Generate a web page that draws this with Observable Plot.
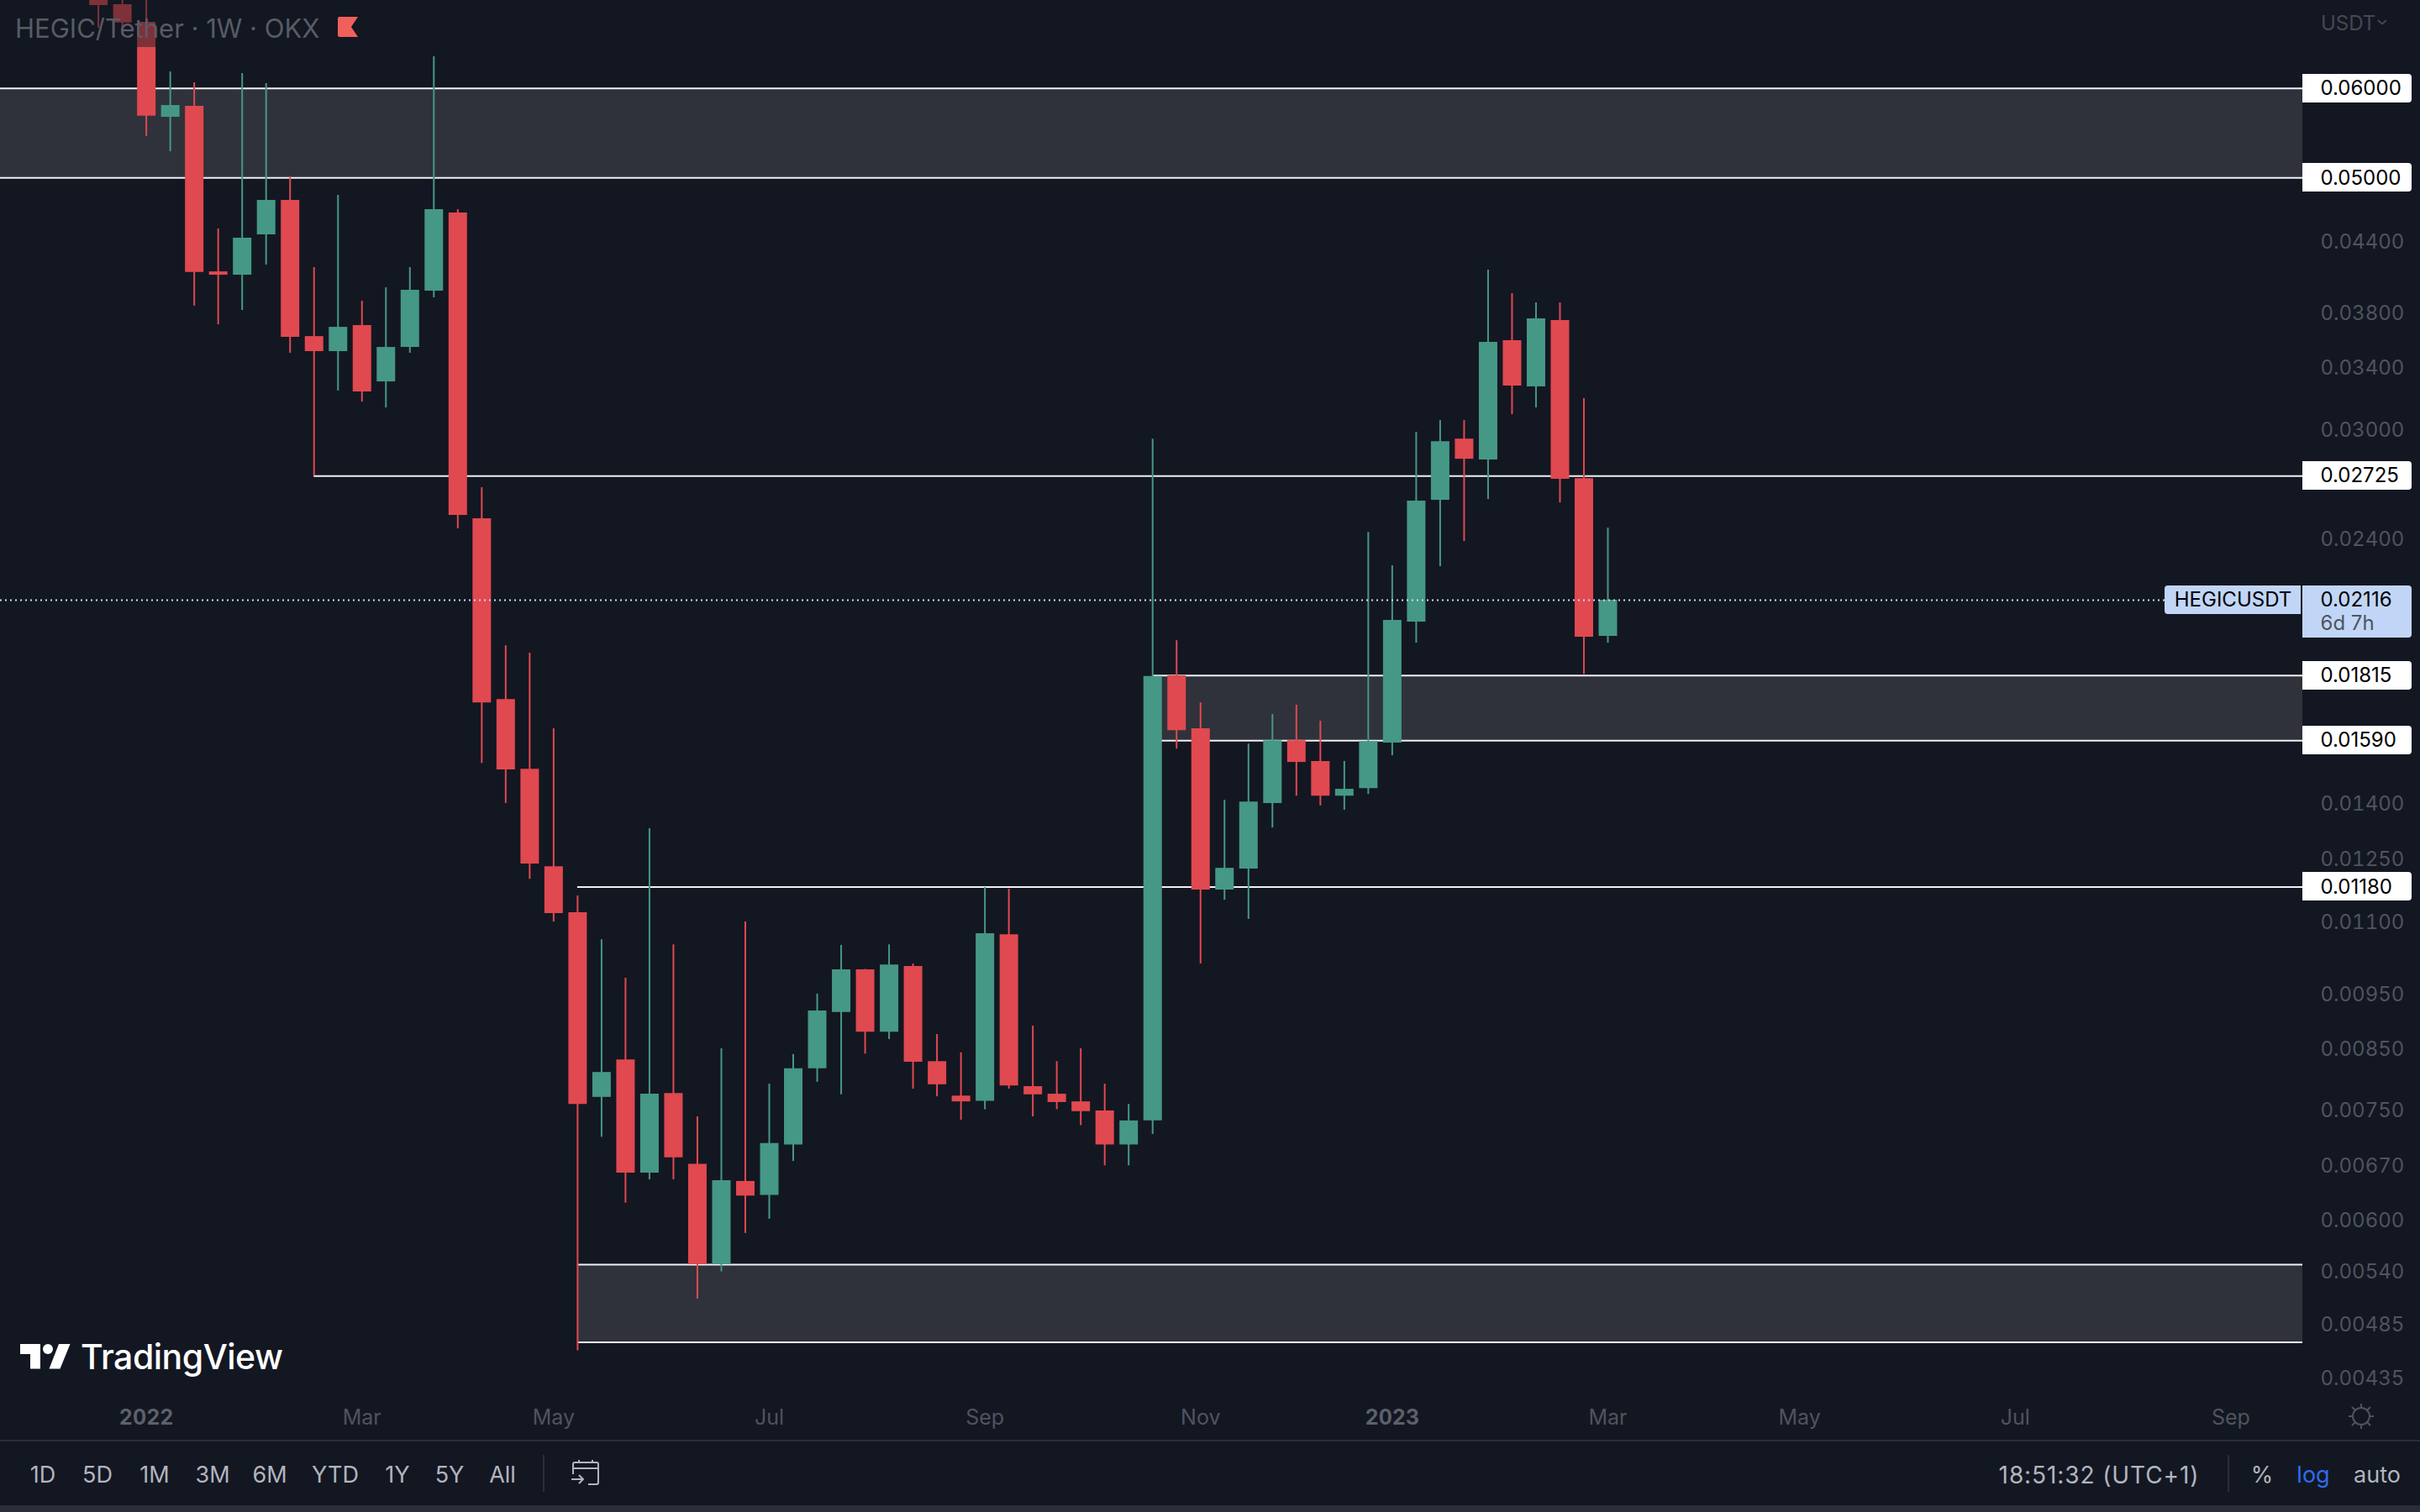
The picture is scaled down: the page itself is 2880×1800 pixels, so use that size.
<!DOCTYPE html>
<html>
<head>
<meta charset="utf-8">
<script src="https://cdn.jsdelivr.net/npm/d3@7"></script>
<script src="https://cdn.jsdelivr.net/npm/@observablehq/plot@0.6"></script>
<style>
html,body{margin:0;padding:0;background:#131722;width:2880px;height:1800px;overflow:hidden;font-family:Inter,"Noto Sans",sans-serif}
#wrap{position:relative;width:2880px;height:1800px}
#chart svg{display:block}
.abs{position:absolute;white-space:nowrap;line-height:1}
.foot{color:#b2b5be;font-size:27px;top:1742px;transform:translateX(-50%)}
</style>
</head>
<body>
<div id="wrap">
  <div id="chart"></div>
  <div class="abs" style="left:0;top:0;width:440px;height:56px;background:rgba(19,23,34,.48)"></div>
  <div class="abs" style="left:18px;top:18px;font-size:31px;color:#585b66">HEGIC/Tether · 1W · OKX</div>
  <svg class="abs" style="left:402px;top:20px" width="24" height="24"><path d="M2 0H24L16 12L24 24H2Q0 24 0 22V2Q0 0 2 0Z" fill="#f0605a"/></svg>
  <div class="abs" style="left:2762px;top:16px;font-size:24px;color:#454852">USDT</div>
  <svg class="abs" style="left:2829px;top:22px" width="12" height="9"><path d="M1 2L6 6.5L11 2" stroke="#454852" stroke-width="2" fill="none"/></svg>
  <svg class="abs" style="left:24px;top:1600px" width="60" height="30"><path d="M0 0H24V29.5H12V12H0Z M46 0H59.5L47.5 29.5H34.5Z" fill="#fff"/><circle cx="33" cy="6" r="6" fill="#fff"/></svg>
  <div class="abs" style="left:96px;top:1595px;font-size:41px;font-weight:500;color:#fff;letter-spacing:-.5px">TradingView</div>
  <svg class="abs" style="left:2795px;top:1671px" width="30" height="30"><g stroke="#50535e" stroke-width="2" fill="none"><circle cx="15" cy="15" r="10"/><path d="M15 0V5M15 25V30M0 15H5M25 15H30M4 4L8 8M22 22L26 26M4 26L8 22M22 8L26 4"/></g></svg>
  <div class="abs" style="left:0;top:1714px;width:2880px;height:2px;background:#2a2e39"></div>
  <div class="abs" style="left:0;top:1792px;width:2880px;height:8px;background:#2a2e39"></div>
  <div class="abs foot" style="left:51px">1D</div>
  <div class="abs foot" style="left:116px">5D</div>
  <div class="abs foot" style="left:184px">1M</div>
  <div class="abs foot" style="left:253px">3M</div>
  <div class="abs foot" style="left:321px">6M</div>
  <div class="abs foot" style="left:399px">YTD</div>
  <div class="abs foot" style="left:473px">1Y</div>
  <div class="abs foot" style="left:535px">5Y</div>
  <div class="abs foot" style="left:598px">All</div>
  <div class="abs" style="left:646px;top:1732px;width:2px;height:44px;background:#2a2e39"></div>
  <svg class="abs" style="left:680px;top:1737px" width="36" height="32"><g stroke="#b2b5be" stroke-width="2" fill="none"><path d="M2 18V6Q2 4 4 4H30Q32 4 32 6V28Q32 30 30 30H20M2 11H32M9 1V5M25 1V5M0 24H14M9 19L14 24L9 29"/></g></svg>
  <div class="abs foot" style="left:2498px;font-size:28px;letter-spacing:.9px">18:51:32 (UTC+1)</div>
  <div class="abs" style="left:2651px;top:1732px;width:2px;height:44px;background:#2a2e39"></div>
  <div class="abs foot" style="left:2692px">%</div>
  <div class="abs foot" style="left:2753px;color:#2f6bf0">log</div>
  <div class="abs foot" style="left:2829px">auto</div>
</div>
<script>
const firstWeek = new Date("2021-12-13T00:00:00Z");
const afterLastWeek = new Date("2023-03-06T00:00:00Z");
const opens  = [0.0745,0.07116,0.06864,0.05658,0.05785,0.04130,0.04102,0.04453,0.04777,0.03620,0.03511,0.03702,0.03301,0.03541,0.03971,0.04656,0.02498,0.01729,0.01500,0.01230,0.01120,0.00769,0.00830,0.00659,0.00775,0.00671,0.00547,0.00648,0.00630,0.00698,0.00815,0.00914,0.00997,0.00878,0.01004,0.00827,0.00771,0.00763,0.01071,0.00786,0.00774,0.00762,0.00748,0.00698,0.00733,0.01814,0.01629,0.01173,0.01224,0.01399,0.01590,0.01524,0.01420,0.01442,0.01582,0.02024,0.02594,0.02938,0.02816,0.03590,0.03267,0.03740,0.02711,0.01966];
const highs  = [0.0760,0.0750,0.0745,0.06206,0.06069,0.04507,0.06184,0.06059,0.05011,0.04166,0.04826,0.03890,0.03998,0.04166,0.06400,0.04688,0.02661,0.01929,0.01900,0.01629,0.01159,0.01060,0.00980,0.01329,0.01049,0.00739,0.00849,0.01099,0.00790,0.00839,0.00949,0.01048,0.00998,0.01049,0.01009,0.00874,0.00842,0.01179,0.01175,0.00889,0.00827,0.00849,0.00790,0.00758,0.02938,0.01949,0.01717,0.01408,0.01579,0.01677,0.01709,0.01654,0.01524,0.02430,0.02270,0.02979,0.03051,0.03051,0.04144,0.03951,0.03877,0.03877,0.03190,0.02451];
const lows   = [0.06783,0.06679,0.05443,0.05275,0.03853,0.03708,0.03818,0.04187,0.03499,0.02725,0.03240,0.03168,0.03131,0.03499,0.03917,0.02447,0.01518,0.01399,0.01199,0.01099,0.00459,0.00709,0.00620,0.00650,0.00650,0.00510,0.00539,0.00583,0.00600,0.00675,0.00793,0.00773,0.00840,0.00865,0.00782,0.00770,0.00734,0.00750,0.00782,0.00739,0.00750,0.00726,0.00669,0.00669,0.00713,0.01563,0.01009,0.01149,0.01105,0.01331,0.01420,0.01392,0.01380,0.01425,0.01542,0.01939,0.02266,0.02385,0.02598,0.03088,0.03131,0.02580,0.01820,0.01939];
const closes = [0.07103,0.06856,0.05670,0.05795,0.04125,0.04102,0.04423,0.04777,0.03614,0.03511,0.03689,0.03234,0.03541,0.03978,0.04688,0.02515,0.01717,0.01498,0.01237,0.01118,0.00758,0.00809,0.00659,0.00774,0.00680,0.00547,0.00649,0.00629,0.00700,0.00815,0.00917,0.00997,0.00878,0.01007,0.00826,0.00789,0.00762,0.01073,0.00787,0.00773,0.00761,0.00747,0.00698,0.00733,0.01812,0.01623,0.01173,0.01226,0.01403,0.01590,0.01521,0.01420,0.01440,0.01587,0.02031,0.02589,0.02923,0.02820,0.03577,0.03273,0.03753,0.02707,0.01963,0.02116];

const priceTicks = [0.044,0.038,0.034,0.030,0.024,0.014,0.0125,0.011,0.0095,0.0085,0.0075,0.0067,0.006,0.0054,0.00485,0.00435];
const tagPrices = [0.06,0.05,0.02725,0.01815,0.0159,0.0118];
const lastPrice = 0.02116;

const monthTickDates = ["2022-02-28","2022-04-25","2022-06-27","2022-08-29","2022-10-31","2023-02-27","2023-04-24","2023-06-26","2023-08-28"];
const monthTickNames = ["Mar","May","Jul","Sep","Nov","Mar","May","Jul","Sep"];
const yearTickDates = ["2021-12-27","2022-12-26"];
const yearTickNames = ["2022","2023"];

const xDomain = [new Date("2021-11-14T09:00:00Z"), new Date("2023-09-18T00:30:00Z")];
const yDomain = [0.004196, 0.07177];

const weeks = d3.utcMonday.range(firstWeek, afterLastWeek);
const candles = weeks.map((date,i)=>({date,open:opens[i],high:highs[i],low:lows[i],close:closes[i]}));
const up = "#459885", down = "#e0494f";
const col = d => d.close >= d.open ? up : down;
const right = xDomain[1];

const zoneStartMid = new Date("2022-10-17T00:00:00Z");
const zoneStartLow = new Date("2022-05-02T00:00:00Z");
const zones = [
  {from:xDomain[0], top:0.06, bottom:0.05},
  {from:zoneStartMid, top:0.01815, bottom:0.0159},
  {from:zoneStartLow, top:0.00547, bottom:0.00467}
];
const levels = [
  {from:xDomain[0], price:0.06},{from:xDomain[0], price:0.05},
  {from:new Date("2022-02-14T00:00:00Z"), price:0.02725},
  {from:zoneStartMid, price:0.01815},{from:zoneStartMid, price:0.0159},
  {from:zoneStartLow, price:0.0118},
  {from:zoneStartLow, price:0.00547},{from:zoneStartLow, price:0.00467}
];
const fmt5 = d3.format(".5f");
const labelOf = (dates,names) => { const m=new Map(dates.map((d,i)=>[+new Date(d+"T00:00:00Z"),names[i]])); return d=>m.get(+d); };
const asDates = a => a.map(d=>new Date(d+"T00:00:00Z"));

function tagShapes(index, scales, values, dims){
  const g = d3.create("svg:g");
  const L = dims.width - dims.marginRight, W = 130, r = 4;
  const box = (x,y,w,h,fill,rl,rr)=>g.append("path").attr("fill",fill).attr("d",
    `M${x+(rl?r:0)} ${y}H${x+w-(rr?r:0)}${rr?`Q${x+w} ${y} ${x+w} ${y+r}`:""}V${y+h-(rr?r:0)}${rr?`Q${x+w} ${y+h} ${x+w-r} ${y+h}`:""}H${x+(rl?r:0)}${rl?`Q${x} ${y+h} ${x} ${y+h-r}`:`H${x}`}V${y+(rl?r:0)}${rl?`Q${x} ${y} ${x+r} ${y}`:""}Z`);
  tagPrices.forEach(p=>box(L,Math.round(scales.y(p))-17,W,34,"#fff",false,true));
  const yl = Math.round(scales.y(lastPrice));
  box(L,yl-17,W,62,"#c1d6f7",false,true);
  box(L-164,yl-17,162,34,"#c1d6f7",true,false);
  return g.node();
}

const chart = Plot.plot({
  width:2880, height:1715,
  marginLeft:0, marginRight:140, marginTop:0, marginBottom:55,
  style:{background:"#131722",fontFamily:"Inter, 'Noto Sans', sans-serif",fontSize:"24px"},
  x:{type:"utc",domain:xDomain},
  y:{type:"log",domain:yDomain},
  marks:[
    Plot.rect(zones,{x1:"from",x2:()=>right,y1:"bottom",y2:"top",fill:"#2f323b"}),
    Plot.ruleY(levels,{y:"price",x1:"from",x2:()=>right,stroke:"#f0f1f3",strokeWidth:2}),
    Plot.ruleX(candles,{x:"date",y1:"low",y2:"high",stroke:col,strokeWidth:2}),
    Plot.ruleX(candles,{x:"date",y1:"open",y2:"close",stroke:col,strokeWidth:22}),
    Plot.ruleY([lastPrice],{x1:()=>xDomain[0],x2:()=>right,stroke:"#cfdcf3",strokeWidth:2,strokeDasharray:"2 4"}),
    Plot.axisY(priceTicks,{anchor:"right",tickSize:0,tickPadding:21,tickFormat:fmt5,label:null,fill:"#50535e",fontSize:24,textAnchor:"start",dy:1.5}),
    Plot.axisX(asDates(monthTickDates),{anchor:"bottom",tickSize:0,tickPadding:18,tickFormat:labelOf(monthTickDates,monthTickNames),label:null,fill:"#50535e",fontSize:25}),
    Plot.axisX(asDates(yearTickDates),{anchor:"bottom",tickSize:0,tickPadding:18,tickFormat:labelOf(yearTickDates,yearTickNames),label:null,fill:"#5d606b",fontSize:25,fontWeight:700}),
    tagShapes,
    Plot.text(tagPrices,{x:()=>right,y:d=>d,dx:21,text:fmt5,textAnchor:"start",fill:"#000",fontSize:24}),
    Plot.text([lastPrice],{x:()=>right,y:d=>d,dx:21,text:fmt5,textAnchor:"start",fill:"#000",fontSize:24}),
    Plot.text(["6d 7h"],{x:()=>right,y:()=>lastPrice,dx:21,dy:28,text:d=>d,textAnchor:"start",fill:"#50535e",fontSize:24}),
    Plot.text(["HEGICUSDT"],{x:()=>right,y:()=>lastPrice,dx:-83,text:d=>d,textAnchor:"middle",fill:"#000",fontSize:24})
  ]
});
document.getElementById("chart").appendChild(chart);
</script>
</body>
</html>
